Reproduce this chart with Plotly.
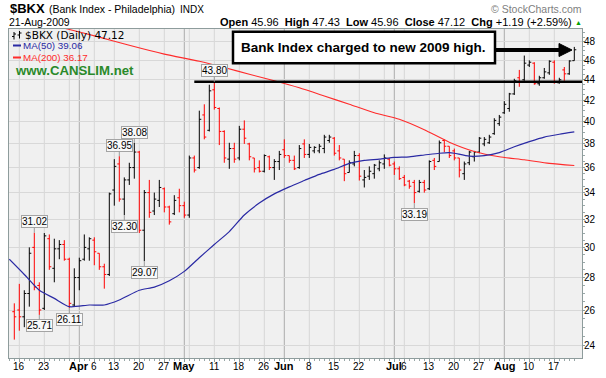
import math
import pandas as pd
import plotly.graph_objects as go

# ---------------- data ----------------
symbol = "$BKX"
full_name = "(Bank Index - Philadelphia)"
exchange = "INDX"
as_of = "21-Aug-2009"
holidays = ["2009-04-10", "2009-05-25", "2009-07-03"]
first_day, last_day = "2009-03-12", "2009-08-21"
bar_start = "2009-03-13"

opens = [
    25.9,
    26.0, 25.6, 27.0, 30.0, 27.5,
    26.1, 30.6, 28.6, 29.9, 30.2,
    29.2, 26.3, 28.0, 29.2, 29.9,
    30.5, 29.6, 28.7, 28.2,
    34.2, 36.3, 33.5, 35.0, 36.0,
    37.3, 31.2, 34.0, 32.6, 33.4,
    34.3, 32.9, 32.4, 33.6, 33.0,
    32.3, 36.8, 36.0, 40.6, 39.2,
    43.0, 41.2, 39.1, 36.7, 37.6,
    36.8, 39.3, 38.0, 36.8, 36.0,
    35.7, 36.9, 36.0, 36.5,
    37.5, 37.0, 36.6, 36.0, 38.0,
    37.1, 37.4, 37.4, 37.6, 38.3,
    38.5, 37.4, 36.7, 35.6, 36.3,
    37.0, 35.0, 35.3, 35.5, 35.9,
    36.3, 36.7, 36.3, 35.9,
    35.2, 34.9, 34.8, 34.1, 34.8,
    34.3, 36.6, 36.5, 38.3, 37.8,
    37.4, 36.8, 35.5, 36.4, 36.9,
    37.3, 38.0, 38.1, 38.9, 39.8,
    40.8, 41.2, 42.6, 44.2, 44.0,
    45.5, 45.7, 43.6, 44.2, 44.7,
    45.8, 43.7, 45.0, 44.6, 45.96,
]
highs = [
    26.4,
    27.6, 27.2, 30.0, 31.02, 27.7,
    31.0, 30.9, 30.6, 30.5, 30.5,
    29.3, 28.6, 29.3, 30.9, 30.7,
    30.7, 29.6, 28.9, 34.0,
    36.7, 36.95, 35.2, 36.4, 38.08,
    37.4, 34.2, 35.0, 34.0, 35.0,
    34.4, 33.0, 33.8, 34.3, 33.3,
    37.0, 37.0, 41.0, 41.6, 43.5,
    43.80, 41.3, 39.2, 38.1, 38.1,
    39.6, 40.1, 38.1, 36.8, 36.6,
    37.1, 37.0, 36.7, 37.4,
    38.4, 37.0, 37.0, 37.9, 38.4,
    38.0, 37.8, 38.0, 38.8, 38.8,
    38.6, 37.9, 36.7, 36.6, 37.4,
    37.2, 35.8, 36.1, 36.3, 36.6,
    37.1, 36.8, 36.5, 36.1,
    35.4, 35.0, 35.0, 35.0, 35.0,
    36.6, 36.8, 38.3, 38.4, 37.8,
    37.6, 36.8, 36.5, 37.4, 37.4,
    38.6, 38.6, 38.8, 40.3, 40.6,
    41.9, 42.7, 44.1, 45.0, 46.5,
    46.0, 45.8, 44.4, 45.2, 46.0,
    46.0, 44.2, 45.3, 46.0, 47.43,
]
lows = [
    24.3,
    24.8, 25.0, 26.2, 27.2, 25.71,
    26.0, 28.5, 27.7, 29.2, 29.1,
    26.11, 26.2, 27.2, 29.1, 29.1,
    28.8, 28.5, 27.3, 28.1,
    33.0, 33.3, 32.30, 34.6, 35.1,
    31.0, 29.07, 32.1, 32.3, 32.9,
    32.5, 31.6, 32.3, 32.5, 32.1,
    32.1, 35.6, 35.9, 38.4, 39.1,
    41.1, 37.9, 36.4, 35.9, 36.4,
    36.6, 38.0, 36.6, 35.6, 35.6,
    35.6, 35.8, 35.0, 35.8,
    36.8, 36.4, 35.8, 35.9, 36.8,
    36.8, 37.2, 37.2, 37.2, 38.1,
    37.0, 36.6, 34.9, 35.6, 36.1,
    34.95, 34.4, 35.0, 35.1, 35.7,
    35.9, 36.1, 35.4, 35.0,
    34.5, 34.3, 33.19, 34.0, 34.0,
    34.2, 35.8, 36.5, 37.3, 36.8,
    36.6, 35.2, 35.0, 36.2, 36.5,
    37.2, 37.8, 38.0, 38.8, 39.6,
    40.7, 40.9, 42.5, 43.3, 43.9,
    45.3, 43.5, 43.4, 44.1, 44.5,
    43.6, 43.6, 43.9, 44.5, 45.96,
]
closes = [
    25.6,
    25.6, 27.0, 29.6, 27.4, 26.0,
    30.8, 28.7, 29.9, 30.2, 29.2,
    26.4, 28.0, 29.1, 30.0, 30.6,
    29.7, 28.7, 28.2, 33.9,
    36.1, 33.5, 35.0, 36.0, 37.3,
    31.2, 34.0, 32.5, 33.5, 34.4,
    32.9, 31.8, 33.4, 33.0, 32.3,
    36.8, 35.8, 40.2, 38.6, 42.9,
    41.3, 39.1, 36.8, 37.6, 36.7,
    39.3, 38.5, 36.9, 35.9, 35.7,
    37.0, 36.0, 36.5, 37.1,
    37.0, 36.6, 35.9, 37.6, 37.1,
    37.7, 37.7, 37.8, 38.6, 38.6,
    37.2, 36.8, 35.5, 36.4, 37.0,
    35.3, 35.2, 35.7, 36.2, 36.4,
    36.8, 36.2, 35.9, 35.1,
    34.6, 34.5, 34.0, 34.8, 34.2,
    36.5, 36.1, 38.1, 37.8, 37.0,
    36.8, 35.8, 36.3, 37.3, 37.3,
    38.5, 38.4, 38.6, 40.1, 40.4,
    41.6, 42.6, 43.9, 43.8, 45.7,
    45.8, 43.6, 44.2, 44.8, 45.9,
    43.8, 44.0, 44.6, 45.93, 47.12,
]

ma50_dates = ["2009-03-12", "2009-03-17", "2009-03-20", "2009-03-25", "2009-03-30",
              "2009-04-03", "2009-04-08", "2009-04-14", "2009-04-20", "2009-04-23",
              "2009-04-28", "2009-05-01", "2009-05-06", "2009-05-11", "2009-05-14",
              "2009-05-19", "2009-05-22", "2009-05-28", "2009-06-02", "2009-06-05",
              "2009-06-10", "2009-06-15", "2009-06-18", "2009-06-23", "2009-06-26",
              "2009-07-01", "2009-07-07", "2009-07-10", "2009-07-15", "2009-07-17",
              "2009-07-20", "2009-07-23", "2009-07-28", "2009-07-31", "2009-08-05",
              "2009-08-10", "2009-08-13", "2009-08-18", "2009-08-21"]
ma50_vals = [29.2, 28.2, 27.2, 26.7, 26.2,
             26.3, 26.3, 26.6, 27.2, 27.4,
             27.8, 28.4, 29.3, 30.2, 31.1,
             32.3, 33.2, 33.9, 34.45, 34.95,
             35.45, 35.85, 36.35, 36.6, 36.7,
             36.85, 36.9, 37.05, 37.2, 37.25,
             37.2, 36.95, 37.0, 37.25, 37.75,
             38.2, 38.6, 38.85, 39.06]

ma200_dates = ["2009-03-12", "2009-03-27", "2009-04-07", "2009-04-16", "2009-04-27",
               "2009-05-06", "2009-05-13", "2009-05-20", "2009-05-28", "2009-06-04",
               "2009-06-11", "2009-06-18", "2009-06-25", "2009-07-02", "2009-07-10",
               "2009-07-17", "2009-07-24", "2009-07-31", "2009-08-07", "2009-08-14",
               "2009-08-21"]
ma200_vals = [51.1, 49.5, 48.5, 47.6, 46.65,
              45.9, 45.25, 44.55, 43.9, 43.2,
              42.4, 41.6, 40.8, 40.2, 39.25,
              38.15, 37.35, 36.9, 36.65, 36.35,
              36.17]

tick_dates = ["2009-03-16", "2009-03-23", "2009-04-01", "2009-04-06", "2009-04-13",
              "2009-04-20", "2009-04-27", "2009-05-01", "2009-05-11", "2009-05-18",
              "2009-05-26", "2009-06-01", "2009-06-08", "2009-06-15", "2009-06-22",
              "2009-07-01", "2009-07-06", "2009-07-13", "2009-07-20", "2009-07-27",
              "2009-08-03", "2009-08-10", "2009-08-17"]
tick_labels = ["16", "23", "Apr", "6", "13", "20", "27", "May", "11", "18",
               "26", "Jun", "8", "15", "22", "Jul", "6", "13", "20", "27",
               "Aug", "10", "17"]
y_ticks = [24, 26, 28, 30, 32, 34, 36, 38, 40, 42, 44, 46, 48]

price_labels = [("2009-03-19", "high"), ("2009-03-20", "low"), ("2009-03-30", "low"),
                ("2009-04-14", "high"), ("2009-04-15", "low"), ("2009-04-17", "high"),
                ("2009-04-21", "low"), ("2009-05-11", "high"), ("2009-07-08", "low")]

breakout_level = 43.80
breakout_from = "2009-05-05"
note_text = "Bank Index charged to new 2009 high."

# ---------------- layout helpers ----------------
W, H = 606, 378
ML, MR, MT, MB = 9, 24, 29, 20
PW, PH = W - ML - MR, H - MT - MB
ARIAL = "Liberation Sans, Arial, sans-serif"
VERD = "DejaVu Sans, Verdana, sans-serif"
AXC = "#8e9c9c"


def fx(x):
    return (x - ML) / PW


def fy(y):
    return (H - MB - y) / PH


days = [d for d in pd.bdate_range(first_day, last_day) if d.strftime("%Y-%m-%d") not in holidays]
day_index = {d.strftime("%Y-%m-%d"): i for i, d in enumerate(days)}
start = day_index[bar_start]
bar_x = list(range(start, start + len(closes)))

fig = go.Figure()

fig.add_trace(go.Scatter(x=[day_index[d] for d in ma200_dates], y=ma200_vals, mode="lines",
                         line=dict(color="#ff2b2b", width=1.1, shape="spline", smoothing=0.6),
                         hoverinfo="skip", showlegend=False))
fig.add_trace(go.Scatter(x=[day_index[d] for d in ma50_dates], y=ma50_vals, mode="lines",
                         line=dict(color="#2a2aa4", width=1.2, shape="spline", smoothing=0.6),
                         hoverinfo="skip", showlegend=False))
fig.add_trace(go.Ohlc(x=bar_x, open=opens, high=highs, low=lows, close=closes,
                      increasing=dict(line=dict(color="black", width=1)),
                      decreasing=dict(line=dict(color="#ff0000", width=1)),
                      tickwidth=0.4, hoverinfo="skip", showlegend=False))

shapes = []
# vertical grid lines: each new week and each new month
for i in range(1, len(days)):
    d, p = days[i], days[i - 1]
    new_month = d.month != p.month
    new_week = d.weekday() < p.weekday()
    if new_month or new_week:
        shapes.append(dict(type="line", xref="x", yref="paper", x0=i, x1=i, y0=0, y1=1,
                           line=dict(color="#acacac" if new_month else "#d6d6d6", width=1),
                           layer="below"))

# breakout line at the high
shapes.append(dict(type="line", xref="x", yref="y", x0=day_index[breakout_from], x1=len(days) + 5,
                   y0=breakout_level, y1=breakout_level, line=dict(color="black", width=2.5),
                   layer="above"))
# note box and arrow
shapes.append(dict(type="rect", xref="paper", yref="paper", x0=fx(233), x1=fx(495),
                   y0=fy(63.3), y1=fy(31.7), line=dict(color="black", width=2.5),
                   fillcolor="white", layer="above"))
shapes.append(dict(type="line", xref="paper", yref="paper", x0=fx(495), x1=fx(561),
                   y0=fy(50), y1=fy(50), line=dict(color="black", width=4), layer="above"))
shapes.append(dict(type="path", xref="paper", yref="paper",
                   path=f"M {fx(559)} {fy(43.5)} L {fx(572)} {fy(50)} L {fx(559)} {fy(56.5)} Z",
                   fillcolor="black", line=dict(color="black", width=1), layer="above"))
# legend line swatches
shapes.append(dict(type="line", xref="paper", yref="paper", x0=fx(13), x1=fx(21),
                   y0=fy(45.5), y1=fy(45.5), line=dict(color="#2a2aa4", width=2), layer="above"))
shapes.append(dict(type="line", xref="paper", yref="paper", x0=fx(13), x1=fx(21),
                   y0=fy(57.5), y1=fy(57.5), line=dict(color="#ff2b2b", width=2), layer="above"))
# tiny OHLC icon
for bx, top, bot, lt, rt in [(14, 32, 39.5, 36.5, 34), (19.5, 31, 38.5, 35, 33)]:
    shapes.append(dict(type="line", xref="paper", yref="paper", x0=fx(bx), x1=fx(bx),
                       y0=fy(bot), y1=fy(top), line=dict(color="black", width=1), layer="above"))
    shapes.append(dict(type="line", xref="paper", yref="paper", x0=fx(bx - 2), x1=fx(bx),
                       y0=fy(lt), y1=fy(lt), line=dict(color="black", width=1), layer="above"))
    shapes.append(dict(type="line", xref="paper", yref="paper", x0=fx(bx), x1=fx(bx + 2),
                       y0=fy(rt), y1=fy(rt), line=dict(color="black", width=1), layer="above"))

annotations = []


def txt(text, x, y, size, anchor="left", color="black", family=ARIAL):
    annotations.append(dict(text=text, x=fx(x), y=fy(y), xref="paper", yref="paper",
                            xanchor=anchor, yanchor="middle", showarrow=False, borderpad=0,
                            font=dict(size=size, color=color, family=family)))


chg = closes[-1] - closes[-2]
pct = chg / closes[-2] * 100
header = (f"<b>Open</b> {opens[-1]:.2f}  <b>High</b> {highs[-1]:.2f}  <b>Low</b> {lows[-1]:.2f}  "
          f"<b>Close</b> {closes[-1]:.2f}  <b>Chg</b> {chg:+.2f} ({pct:+.2f}%)")

txt(f"<b>{symbol}</b>", 9, 8.5, 13)
txt(full_name, 48, 9, 10.5)
txt(exchange, 178.5, 9.5, 10)
txt(as_of, 8, 22, 10.5)
txt(header, 573, 22, 11, anchor="right")
txt("▲", 578.5, 22.5, 7, anchor="center", color="#00a000")
txt("© StockCharts.com", 583, 9, 10.5, anchor="right", color="#808080")
txt(f"{symbol} (Daily) {closes[-1]:.2f}", 23.5, 35.3, 10.5, family=VERD)
txt(f"MA(50) {ma50_vals[-1]:.2f}", 21.5, 46, 9.8, color="#2a2aa4")
txt(f"MA(200) {ma200_vals[-1]:.2f}", 21.5, 57.8, 9.8, color="#ff2b2b")
txt("<b>www.CANSLIM.net</b>", 14, 70.5, 13.2, color="#2a8a2a")
txt(f"<b>{note_text}</b>", 363, 47.5, 13.5, anchor="center")

# date labels under the axis (centred on their trading day)
for d, t in zip(tick_dates, tick_labels):
    is_month = t.isalpha()
    annotations.append(dict(text=f"<b>{t}</b>" if is_month else t, x=day_index[d], xref="x",
                            y=fy(366), yref="paper", xanchor="center", yanchor="middle",
                            showarrow=False, borderpad=0,
                            font=dict(size=11 if is_month else 10, family=ARIAL, color="black")))

for d, kind in price_labels:
    k = day_index[d] - start
    v = highs[k] if kind == "high" else lows[k]
    annotations.append(dict(x=day_index[d], y=math.log10(v), xref="x", yref="y",
                            text=f"{v:.2f}", showarrow=True, arrowhead=0, arrowwidth=1,
                            arrowcolor="#9a9a9a", ax=0, ay=-11 if kind == "high" else 11,
                            bgcolor="#f8f8f8", bordercolor="#a4a4a4", borderwidth=1,
                            borderpad=0, font=dict(size=10, family=ARIAL, color="black")))

fig.update_layout(
    width=W, height=H,
    margin=dict(l=ML, r=MR, t=MT, b=MB, pad=0, autoexpand=False),
    paper_bgcolor="white", plot_bgcolor="#f0f0f0",
    showlegend=False,
    shapes=shapes, annotations=annotations,
    xaxis=dict(range=[-0.06, len(days) + 0.54], tickmode="array",
               tickvals=[day_index[d] for d in tick_dates], showticklabels=False,
               ticks="outside", ticklen=3, tickcolor=AXC, showgrid=False, zeroline=False,
               showline=True, linecolor=AXC, mirror=True, automargin=False,
               minor=dict(tickmode="array", tickvals=list(range(len(days))), ticks="outside",
                          ticklen=2, tickcolor="#9aa8a8", showgrid=False),
               rangeslider=dict(visible=False), fixedrange=True),
    yaxis=dict(type="log", range=[math.log10(23.30), math.log10(49.41)], side="right",
               tickmode="array", tickvals=y_ticks, ticktext=[str(v) for v in y_ticks],
               ticks="outside", ticklen=2, tickcolor=AXC, showgrid=True,
               gridcolor="#d8d8d8", gridwidth=1, zeroline=False, automargin=False,
               showline=True, linecolor=AXC, mirror=True,
               tickfont=dict(family=ARIAL, size=10, color="black"),
               minor=dict(tickmode="array", tickvals=[24 + 0.5 * k for k in range(51)],
                          ticks="outside", ticklen=2, tickcolor="#9aa8a8", showgrid=False),
               fixedrange=True),
)
fig.update_xaxes(rangeslider_visible=False)
try:
    fig.update_yaxes(ticklabelstandoff=-3)
except Exception:
    pass

fig.write_html("out.html", config={"displayModeBar": False},
               post_script="document.body.style.margin='0';document.body.style.padding='0';")
